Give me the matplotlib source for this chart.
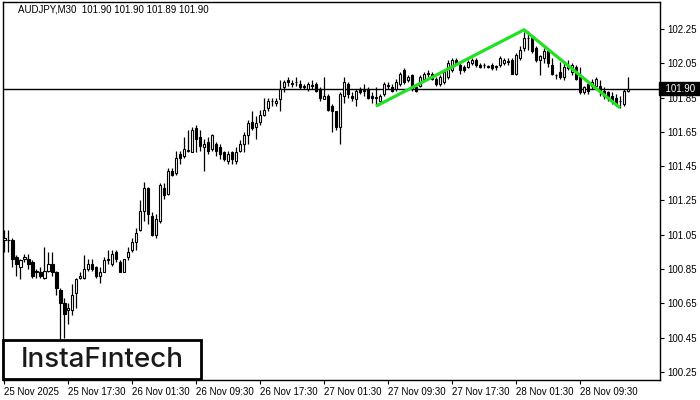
import matplotlib.pyplot as plt
from matplotlib.patches import Rectangle
import numpy as np

# AUDJPY M30 candles (open, high, low, close)
opens = [101.02, 101.02, 101.02, 100.92, 100.86, 100.91, 100.91, 100.89, 100.83, 100.83,
         100.80, 100.84, 100.88, 100.83, 100.73, 100.65, 100.61, 100.61, 100.71, 100.80,
         100.80, 100.85, 100.88, 100.86, 100.81, 100.83, 100.91, 100.88, 100.95, 100.89,
         100.83, 100.92, 100.96, 101.01, 101.08, 101.19, 101.32, 101.16, 101.05, 101.13,
         101.32, 101.29, 101.42, 101.41, 101.52, 101.51, 101.54, 101.53, 101.67, 101.62,
         101.56, 101.59, 101.55, 101.58, 101.56, 101.53, 101.48, 101.53, 101.48, 101.54,
         101.58, 101.63, 101.71, 101.68, 101.71, 101.75, 101.79, 101.83, 101.82, 101.84,
         101.91, 101.95, 101.93, 101.94, 101.93, 101.92, 101.90, 101.92, 101.93, 101.90,
         101.84, 101.86, 101.80, 101.77, 101.68, 101.86, 101.93, 101.86, 101.84, 101.90,
         101.89, 101.90, 101.86, 101.855, 101.83, 101.87, 101.92, 101.91, 101.90, 101.93,
         102.01, 101.95, 101.98, 101.91, 101.92, 101.96, 101.99, 101.99, 101.96, 101.93,
         101.94, 101.97, 102.01, 102.07, 102.04, 102.03, 102.03, 102.05, 102.07, 102.04,
         102.04, 102.035, 102.04, 102.03, 102.04, 102.05, 102.06, 102.07, 101.99, 102.08,
         102.14, 102.20, 102.20, 102.14, 102.07, 102.08, 102.12, 102.04, 101.98, 102.00,
         101.97, 102.02, 102.00, 102.03, 101.97, 101.88, 101.93, 101.92, 101.92, 101.92,
         101.89, 101.88, 101.86, 101.85, 101.83, 101.81, 101.89]
highs = [101.08, 101.08, 101.03, 100.93, 100.91, 100.94, 100.94, 100.90, 100.85, 100.86,
         100.98, 100.95, 100.95, 100.84, 100.74, 100.68, 100.65, 100.76, 100.80, 100.83,
         100.93, 100.91, 100.91, 100.87, 100.86, 100.92, 100.96, 100.96, 100.96, 100.90,
         100.91, 100.98, 101.03, 101.09, 101.25, 101.36, 101.33, 101.18, 101.17, 101.35,
         101.35, 101.44, 101.44, 101.54, 101.54, 101.62, 101.66, 101.68, 101.69, 101.66,
         101.61, 101.62, 101.64, 101.59, 101.58, 101.54, 101.54, 101.54, 101.56, 101.60,
         101.65, 101.72, 101.77, 101.74, 101.78, 101.85, 101.85, 101.85, 101.85, 101.95,
         101.95, 101.97, 101.95, 101.97, 101.95, 101.93, 101.94, 101.95, 101.94, 101.91,
         101.97, 101.87, 101.81, 101.77, 101.88, 101.97, 101.94, 101.88, 101.90, 101.91,
         101.93, 101.91, 101.88, 101.91, 101.87, 101.94, 101.94, 101.93, 101.96, 102.00,
         102.02, 101.98, 101.99, 101.92, 101.98, 102.00, 102.01, 102.00, 101.97, 101.98,
         102.01, 102.07, 102.08, 102.08, 102.05, 102.04, 102.07, 102.08, 102.08, 102.05,
         102.05, 102.04, 102.05, 102.04, 102.09, 102.08, 102.08, 102.08, 102.11, 102.15,
         102.23, 102.24, 102.21, 102.15, 102.10, 102.14, 102.13, 102.08, 101.99, 102.06,
         102.06, 102.07, 102.05, 102.04, 102.03, 101.92, 101.94, 101.96, 101.97, 101.95,
         101.91, 101.89, 101.88, 101.87, 101.86, 101.90, 101.97]
lows = [100.95, 100.95, 100.86, 100.81, 100.79, 100.89, 100.85, 100.80, 100.80, 100.80,
        100.79, 100.83, 100.81, 100.70, 100.44, 100.45, 100.53, 100.58, 100.62, 100.79,
        100.79, 100.84, 100.84, 100.80, 100.77, 100.83, 100.88, 100.87, 100.89, 100.83,
        100.83, 100.90, 100.95, 100.96, 101.07, 101.13, 101.11, 101.04, 101.03, 101.12,
        101.26, 101.28, 101.39, 101.40, 101.46, 101.50, 101.53, 101.53, 101.53, 101.54,
        101.42, 101.52, 101.54, 101.51, 101.49, 101.48, 101.46, 101.46, 101.46, 101.53,
        101.53, 101.58, 101.66, 101.61, 101.69, 101.74, 101.77, 101.80, 101.80, 101.77,
        101.88, 101.92, 101.91, 101.92, 101.90, 101.90, 101.89, 101.90, 101.88, 101.83,
        101.84, 101.77, 101.65, 101.66, 101.58, 101.82, 101.85, 101.83, 101.80, 101.87,
        101.86, 101.84, 101.82, 101.80, 101.82, 101.86, 101.90, 101.88, 101.89, 101.92,
        101.93, 101.94, 101.89, 101.88, 101.91, 101.95, 101.97, 101.95, 101.92, 101.92,
        101.93, 101.96, 102.00, 102.04, 101.99, 102.00, 102.02, 102.04, 102.03, 102.02,
        102.02, 102.02, 102.01, 102.01, 102.03, 102.04, 102.04, 101.99, 101.98, 102.07,
        102.12, 102.13, 102.11, 102.06, 101.98, 102.05, 102.03, 101.98, 101.96, 101.96,
        101.95, 102.01, 101.98, 101.95, 101.87, 101.87, 101.87, 101.90, 101.90, 101.86,
        101.84, 101.83, 101.81, 101.80, 101.79, 101.80, 101.88]
closes = [101.03, 101.02, 100.91, 100.88, 100.90, 100.92, 100.88, 100.81, 100.84, 100.81,
          100.84, 100.88, 100.83, 100.74, 100.65, 100.59, 100.62, 100.70, 100.79, 100.81,
          100.85, 100.88, 100.85, 100.81, 100.83, 100.90, 100.90, 100.94, 100.91, 100.83,
          100.91, 100.95, 101.01, 101.06, 101.19, 101.32, 101.17, 101.05, 101.14, 101.34,
          101.28, 101.42, 101.40, 101.50, 101.50, 101.55, 101.545, 101.66, 101.61, 101.57,
          101.58, 101.54, 101.63, 101.54, 101.52, 101.49, 101.52, 101.49, 101.53, 101.58,
          101.63, 101.70, 101.67, 101.70, 101.75, 101.78, 101.83, 101.83, 101.83, 101.90,
          101.94, 101.94, 101.935, 101.94, 101.91, 101.91, 101.93, 101.92, 101.89, 101.85,
          101.86, 101.78, 101.77, 101.68, 101.87, 101.94, 101.87, 101.85, 101.89, 101.88,
          101.89, 101.85, 101.85, 101.85, 101.86, 101.93, 101.92, 101.89, 101.94, 101.99,
          101.94, 101.97, 101.90, 101.89, 101.97, 101.99, 101.995, 101.96, 101.93, 101.97,
          102.00, 102.05, 102.07, 102.05, 102.01, 102.01, 102.06, 102.07, 102.04, 102.03,
          102.04, 102.03, 102.02, 102.03, 102.08, 102.07, 102.065, 101.99, 102.10, 102.13,
          102.20, 102.195, 102.12, 102.07, 102.09, 102.12, 102.05, 101.99, 101.98, 101.97,
          102.03, 102.04, 102.04, 101.96, 101.88, 101.91, 101.89, 101.94, 101.96, 101.88,
          101.86, 101.85, 101.83, 101.82, 101.83, 101.89, 101.90]

# pattern line (bar index, price)
pattern_x = [93, 130, 154]
pattern_y = [101.80, 102.245, 101.79]

last_price = 101.90
yticks = [102.25, 102.05, 101.85, 101.65, 101.45, 101.25, 101.05, 100.85, 100.65, 100.45, 100.25]
xtick_pos = [0, 16, 32, 48, 64, 80, 96, 112, 128, 144]
xtick_labels = ['25 Nov 2025', '25 Nov 17:30', '26 Nov 01:30', '26 Nov 09:30', '26 Nov 17:30',
                '27 Nov 01:30', '27 Nov 09:30', '27 Nov 17:30', '28 Nov 01:30', '28 Nov 09:30']

plt.rcParams['font.family'] = 'Liberation Sans'
fig = plt.figure(figsize=(7, 4), dpi=100)
ax = fig.add_axes([3 / 700, 20 / 400, 657 / 700, 378 / 400])

o = np.array(opens)
h = np.array(highs)
l = np.array(lows)
c = np.array(closes)
idx = np.arange(len(o))

ax.vlines(idx, l, h, color='black', linewidth=0.9, zorder=2)
body_bottom = np.minimum(o, c)
body_h = np.maximum(np.abs(c - o), 0.002)
colors = ['white' if cc >= oo else 'black' for oo, cc in zip(o, c)]
ax.bar(idx, body_h, bottom=body_bottom, width=0.66, color=colors,
       edgecolor='black', linewidth=0.8, zorder=3)

ax.axhline(last_price, color='black', linewidth=1.0, zorder=1)
ax.plot(pattern_x, pattern_y, color='#22e022', linewidth=2.3, zorder=4,
        solid_capstyle='butt')

ax.set_xlim(-0.3, 164)
ax.set_ylim(100.203, 102.407)

ax.yaxis.tick_right()
ax.set_yticks(yticks)
ax.set_yticklabels([f'{v:.2f}' for v in yticks], fontsize=7)
ax.set_xticks(xtick_pos)
ax.set_xticklabels(xtick_labels, fontsize=7, ha='left')
ax.tick_params(axis='y', length=3, width=0.8, pad=2)
ax.tick_params(axis='x', length=3, width=0.8, pad=2)
for s in ax.spines.values():
    s.set_linewidth(1.0)

# current price tag
ax.text(1.0, last_price, '  101.90  ', transform=ax.get_yaxis_transform(),
        fontsize=7, color='white', va='center', ha='left', zorder=10,
        bbox=dict(boxstyle='square,pad=0.15', fc='black', ec='black'))

fig.text(18 / 700, 1 - 10 / 400, 'AUDJPY,M30  101.90 101.90 101.89 101.90',
         fontsize=7, va='center', ha='left')

# logo
fig.patches.append(Rectangle((3 / 700, 21 / 400), 198 / 700, 39 / 400,
                             transform=fig.transFigure, fc='white', ec='black',
                             lw=2, zorder=20))
fig.text(102 / 700, 40 / 400, 'InstaF\u0131ntech', fontsize=20, family='Inter',
         weight='medium', color='#1a1a1a', ha='center', va='center', zorder=21)

plt.savefig('out.png', dpi=100)
